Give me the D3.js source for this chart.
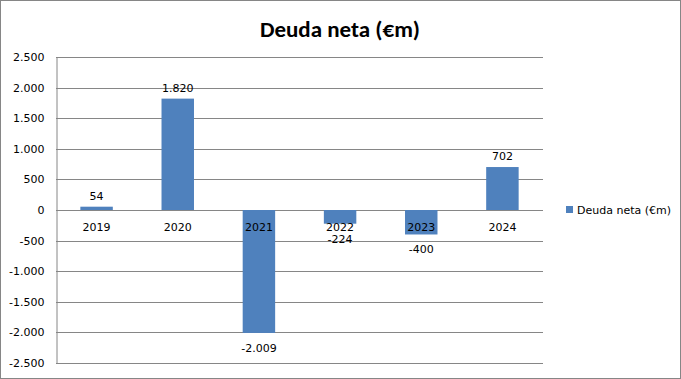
<!DOCTYPE html>
<html><head><meta charset="utf-8">
<script src="https://cdn.jsdelivr.net/npm/d3@7"></script>
<style>body{margin:0;background:#fff}svg{display:block}</style>
</head><body>
<svg id="c" width="681" height="379"></svg>
<script>
const categories = ["2019","2020","2021","2022","2023","2024"];
const values = [54, 1820, -2009, -224, -400, 702];
const tickValues = [2500,2000,1500,1000,500,0,-500,-1000,-1500,-2000,-2500];
const title = "Deuda neta (€m)";
const seriesName = "Deuda neta (€m)";

const loc = d3.formatLocale({decimal: ",", thousands: ".", grouping: [3], currency: ["", "€"], minus: "-"});
const fmt = loc.format(",.0f");

const svg = d3.select("#c");
const font = "Verdana, 'DejaVu Sans', sans-serif";
const W = 681, H = 379;
const m = {left: 56, right: 543, top: 57, bottom: 363};

svg.append("rect").attr("x",0.5).attr("y",0.5).attr("width",W-1).attr("height",H-1)
  .attr("fill","#fff").attr("stroke","#868686");

svg.append("text").attr("x",340).attr("y",37).attr("text-anchor","middle")
  .attr("font-family","Carlito, Calibri, 'Open Sans', sans-serif").attr("font-weight","bold")
  .attr("font-size",23).attr("fill","#000").text(title);

const x = d3.scaleBand().domain(categories).range([m.left, m.right]).paddingInner(0.6).paddingOuter(0.3);
const y = d3.scaleLinear().domain([-2500, 2500]).range([m.bottom, m.top]);

// gridlines
svg.append("g").selectAll("line").data(tickValues).join("line")
  .attr("x1", m.left).attr("x2", m.right)
  .attr("y1", d => Math.round(y(d))+0.5).attr("y2", d => Math.round(y(d))+0.5)
  .attr("stroke","#868686").attr("stroke-width",1);

// y axis
const ya = svg.append("g").attr("transform",`translate(${m.left+0.5},0)`)
  .call(d3.axisLeft(y).tickValues(tickValues).tickFormat(fmt).tickSize(0).tickPadding(12));
ya.select(".domain").attr("stroke","#868686");
ya.selectAll("text").attr("font-family",font).attr("font-size",11).attr("fill","#000");

// bars
svg.append("g").selectAll("rect").data(values).join("rect")
  .attr("x",(d,i)=>x(categories[i])).attr("width",x.bandwidth())
  .attr("y",d=>y(Math.max(0,d))).attr("height",d=>Math.abs(y(d)-y(0)))
  .attr("fill","#4F81BD");

// category labels
const xa = svg.append("g").attr("transform",`translate(0,${y(0)})`)
  .call(d3.axisBottom(x).tickSize(0).tickPadding(13));
xa.select(".domain").remove();
xa.selectAll("text").attr("font-family",font).attr("font-size",11).attr("fill","#000");

// data labels
svg.append("g").selectAll("text").data(values).join("text")
  .attr("x",(d,i)=>x(categories[i])+x.bandwidth()/2)
  .attr("y",d=> d>=0 ? y(d)-7 : y(d)+19)
  .attr("text-anchor","middle").attr("font-family",font).attr("font-size",11).attr("fill","#000")
  .text(d=>fmt(d));

// legend
const lg = svg.append("g").attr("transform","translate(566,206)");
lg.append("rect").attr("width",7).attr("height",7).attr("fill","#4F81BD");
lg.append("text").attr("x",11).attr("y",7.5).attr("font-family",font).attr("font-size",11)
  .attr("fill","#000").text(seriesName);
</script>
</body></html>
